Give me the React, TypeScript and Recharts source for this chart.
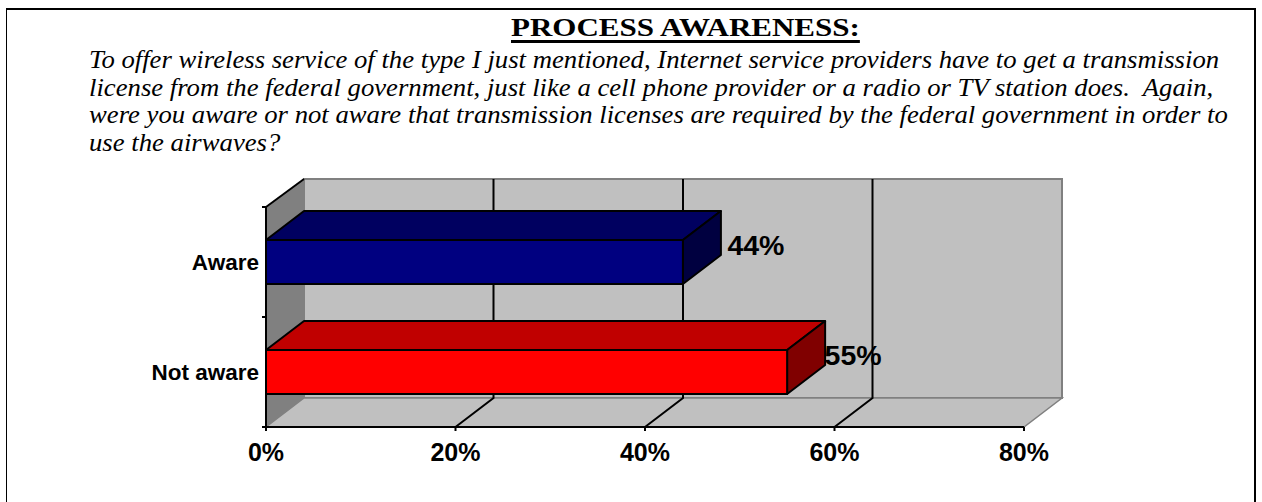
// Horizontal 3D-look bar chart of process awareness, with the survey question above it

import { BarChart, Bar, XAxis, YAxis, ReferenceArea, ReferenceLine, LabelList } from 'recharts';

const categories = ['Aware', 'Not aware'];
const awareness = [44, 55];
const xTicks = [0, 20, 40, 60, 80];
const gridValues = [20, 40, 60];
const title = 'PROCESS AWARENESS:';
const questionLines = [
  'To offer wireless service of the type I just mentioned, Internet service providers have to get a transmission',
  'license from the federal government, just like a cell phone provider or a radio or TV station does.  Again,',
  'were you aware or not aware that transmission licenses are required by the federal government in order to',
  'use the airwaves?',
];

const data = categories.map((name, i) => ({ name, value: awareness[i] }));

const DX = 38;
const DY = 29;
const faces = [
  { front: '#000080', top: '#000060', side: '#000040' },
  { front: '#ff0000', top: '#c00000', side: '#800000' },
];
const labelShift = [
  { dx: 73, dy: 5 },
  { dx: 66, dy: 5 },
];

const pts = (list: number[][]) => list.map(p => p.join(',')).join(' ');

function Walls({ x, y, width, height }: any) {
  const bottom = y + height;
  return (
    <g>
      <rect x={x + DX} y={y - DY + 1} width={width} height={height - 1} fill="#c0c0c0" stroke="#808080" strokeWidth={2} />
      <polygon
        points={pts([[x, bottom], [x + width, bottom], [x + width + DX, bottom - DY], [x + DX, bottom - DY]])}
        fill="#c0c0c0"
        stroke="#808080"
        strokeWidth={1.5}
      />
      <polygon points={pts([[x, y], [x + DX, y - DY + 1], [x + DX, bottom - DY], [x, bottom]])} fill="#808080" />
      <line x1={x} y1={y} x2={x + DX} y2={y - DY + 1} stroke="#000" strokeWidth={2} />
      {[y, y + height / 2, bottom].map(t => (
        <line key={t} x1={x - 4} y1={t} x2={x} y2={t} stroke="#000" strokeWidth={2} />
      ))}
    </g>
  );
}

function GridLine({ x1, y1, y2 }: any) {
  const top = Math.min(y1, y2);
  const bottom = Math.max(y1, y2);
  return (
    <polyline
      points={pts([[x1, bottom], [x1 + DX, bottom - DY], [x1 + DX, top - DY + 1]])}
      fill="none"
      stroke="#000"
      strokeWidth={2}
    />
  );
}

function Bar3D({ x, y, width, height, index }: any) {
  const c = faces[index];
  const r = x + width;
  const b = y + height;
  return (
    <g stroke="#000" strokeWidth={2} strokeLinejoin="round">
      <polygon points={pts([[x, y], [r, y], [r + DX, y - DY], [x + DX, y - DY]])} fill={c.top} />
      <polygon points={pts([[r, y], [r + DX, y - DY], [r + DX, b - DY], [r, b]])} fill={c.side} />
      <rect x={x} y={y} width={width} height={height} fill={c.front} />
    </g>
  );
}

function ValueLabel({ x, y, width, value, index }: any) {
  const s = labelShift[index];
  return (
    <text
      x={x + width + s.dx}
      y={y + s.dy}
      textAnchor="middle"
      dominantBaseline="central"
      fontFamily="Liberation Sans"
      fontWeight="bold"
      fontSize={28.5}
      fill="#000"
    >
      {value}%
    </text>
  );
}

const lineStyle = {
  position: 'absolute',
  left: 89,
  margin: 0,
  whiteSpace: 'pre',
  fontFamily: 'Liberation Serif',
  fontStyle: 'italic',
  fontSize: 25,
  lineHeight: '28px',
  color: '#000',
  transform: 'scaleX(1.068)',
  transformOrigin: 'left top',
} as const;

export default function App() {
  return (
    <div style={{ position: 'absolute', left: 0, top: 0, width: 1262, height: 502, background: '#fff', overflow: 'hidden' }}>
      <div style={{ position: 'absolute', left: 6, top: 8, width: 1250, height: 1.5, background: '#000' }} />
      <div style={{ position: 'absolute', left: 6, top: 8, width: 1, height: 494, background: '#000' }} />
      <div style={{ position: 'absolute', left: 1254, top: 10, width: 2, height: 492, background: '#000' }} />
      <div
        style={{
          position: 'absolute',
          left: 511,
          top: 14,
          whiteSpace: 'pre',
          fontFamily: 'Liberation Serif',
          fontWeight: 'bold',
          fontSize: 25,
          lineHeight: '28px',
          textDecoration: 'underline',
          textDecorationThickness: 3,
          textUnderlineOffset: 4,
          color: '#000',
          transform: 'scaleX(1.24)',
          transformOrigin: 'left top',
        }}
      >
        {title}
      </div>
      {questionLines.map((line, i) => (
        <div key={i} style={{ ...lineStyle, top: 46 + i * 27.6 }}>
          {line}
        </div>
      ))}
      <div style={{ position: 'absolute', left: 0, top: 0 }}>
        <BarChart
          width={1262}
          height={502}
          layout="vertical"
          data={data}
          margin={{ top: 207, right: 238, bottom: 0, left: 0 }}
        >
          <XAxis
            type="number"
            domain={[0, 80]}
            ticks={xTicks}
            interval={0}
            tickFormatter={(v: number) => `${v}%`}
            height={75}
            stroke="#000"
            axisLine={{ stroke: '#000', strokeWidth: 2 }}
            tickLine={{ stroke: '#000', strokeWidth: 2 }}
            tickSize={4}
            tickMargin={12}
            tick={{ fontFamily: 'Liberation Sans', fontWeight: 'bold', fontSize: 25, fill: '#000' }}
          />
          <YAxis
            type="category"
            dataKey="name"
            width={266}
            axisLine={{ stroke: '#000', strokeWidth: 2 }}
            tickLine={false}
            tickMargin={1}
            tick={{ fontFamily: 'Liberation Sans', fontWeight: 'bold', fontSize: 22.5, fill: '#000' }}
          />
          <ReferenceArea x1={0} x2={80} shape={<Walls />} zIndex={10} />
          {gridValues.map(v => (
            <ReferenceLine key={v} x={v} shape={<GridLine />} zIndex={20} />
          ))}
          <Bar dataKey="value" barSize={44} shape={<Bar3D />} isAnimationActive={false}>
            <LabelList dataKey="value" content={<ValueLabel />} />
          </Bar>
        </BarChart>
      </div>
    </div>
  );
}
